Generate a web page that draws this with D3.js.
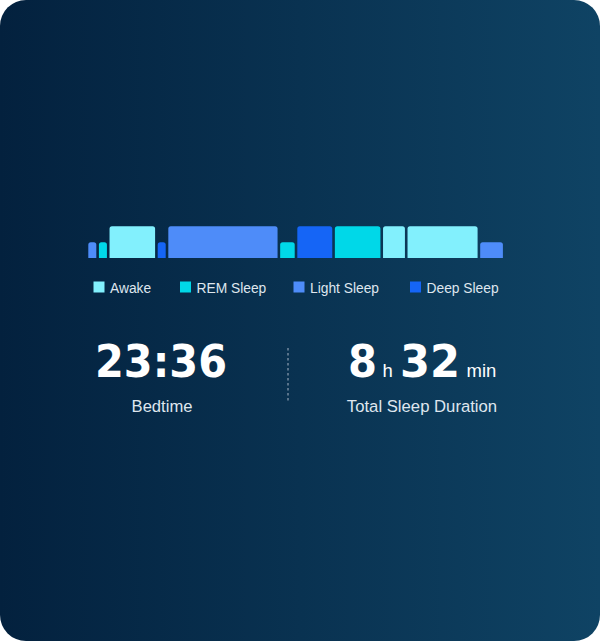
<!DOCTYPE html>
<html><head><meta charset="utf-8">
<script src="https://cdn.jsdelivr.net/npm/d3@7"></script>
<style>html,body{margin:0;padding:0;background:#fff;}svg{display:block;}</style>
</head><body><svg id="c" width="600" height="641"></svg>
<script>
const stages = ["Awake","REM Sleep","Light Sleep","Deep Sleep"];
const stageColors = ["#82f0fd","#00d8e8","#4e8cf9","#1565f6"];
const segStage = ["Light Sleep","REM Sleep","Awake","Deep Sleep","Light Sleep","REM Sleep","Deep Sleep","REM Sleep","Awake","Awake","Light Sleep"];
const segMinutes = [13,13,59,13,137,21,46,59,30,89,31];
const segLevel = [1,1,2,1,2,1,2,2,2,2,1];
const bedtime = "23:36";
const bedtimeLabel = "Bedtime";
const durHours = "8", durMins = "32";
const durLabel = "Total Sleep Duration";

const svg = d3.select("#c");
const W=600,H=641;
const defs = svg.append("defs");
const g = defs.append("linearGradient").attr("id","bg").attr("x1","0").attr("x2","1").attr("y1","0").attr("y2","0");
g.append("stop").attr("offset","0").attr("stop-color","#03213e");
g.append("stop").attr("offset","1").attr("stop-color","#0f4364");
svg.append("rect").attr("x",0).attr("y",0).attr("width",W).attr("height",H).attr("rx",26).attr("fill","url(#bg)");

const color = d3.scaleOrdinal().domain(stages).range(stageColors);
const segs = segMinutes.map((m,i)=>({m, stage:segStage[i], level:segLevel[i]}));
let acc=0; segs.forEach(s=>{s.start=acc; acc+=s.m; s.end=acc;});
const x = d3.scaleLinear().domain([0,acc]).range([88.3,505.5]);
const y = d3.scaleLinear().domain([0,2]).range([258,226.3]);
const gap = 2.6, r = 2.5;
function topRounded(x0,x1,y0,y1,r){
  return `M${x0},${y1}V${y0+r}Q${x0},${y0} ${x0+r},${y0}H${x1-r}Q${x1},${y0} ${x1},${y0+r}V${y1}Z`;
}
svg.append("g").selectAll("path").data(segs).join("path")
  .attr("d",d=>topRounded(x(d.start), x(d.end)-gap, y(d.level), y(0), r))
  .attr("fill",d=>color(d.stage));

const sans = "'Liberation Sans', Arial, sans-serif";
const bold = "'DejaVu Sans', sans-serif";
// legend
const legX = [93.5,180,293.5,410];
const leg = svg.append("g").selectAll("g").data(stages).join("g")
  .attr("transform",(d,i)=>`translate(${legX[i]},281.5)`);
leg.append("rect").attr("width",11).attr("height",11).attr("fill",d=>color(d));
leg.append("text").attr("x",16.5).attr("y",11).text(d=>d)
  .attr("fill","#dfe6ee").attr("font-family",sans).attr("font-size",13.8);

// stats
svg.append("text").attr("x",161).attr("y",377).attr("text-anchor","middle")
  .attr("font-family",bold).attr("font-weight",700).attr("font-size",44).attr("fill","#fff")
  .attr("textLength",132).attr("lengthAdjust","spacingAndGlyphs").text(bedtime);
svg.append("text").attr("x",162).attr("y",411.5).attr("text-anchor","middle")
  .attr("font-family",sans).attr("font-size",16.6).attr("fill","#dfe6ee").text(bedtimeLabel);

const parts = [
  {t:durHours, big:true, w:29, x:348},
  {t:"h", big:false, x:382.5},
  {t:durMins, big:true, w:60, x:400},
  {t:"min", big:false, x:466.5}
];
const dg = svg.append("g");
dg.selectAll("text").data(parts).join("text")
  .attr("x",d=>d.x).attr("y",377)
  .attr("font-family",d=>d.big?bold:sans)
  .attr("font-weight",d=>d.big?700:400)
  .attr("font-size",d=>d.big?44:18.5)
  .attr("fill","#fff")
  .each(function(d){ if(d.big){ d3.select(this).attr("textLength",d.w).attr("lengthAdjust","spacingAndGlyphs"); } })
  .text(d=>d.t);
svg.append("text").attr("x",422).attr("y",411.5).attr("text-anchor","middle")
  .attr("font-family",sans).attr("font-size",16.7).attr("fill","#dfe6ee").text(durLabel);

svg.append("line").attr("x1",288).attr("x2",288).attr("y1",348).attr("y2",403)
  .attr("stroke","#8e9fb2").attr("stroke-width",1.2).attr("stroke-dasharray","2.5,2.5");
</script></body></html>
